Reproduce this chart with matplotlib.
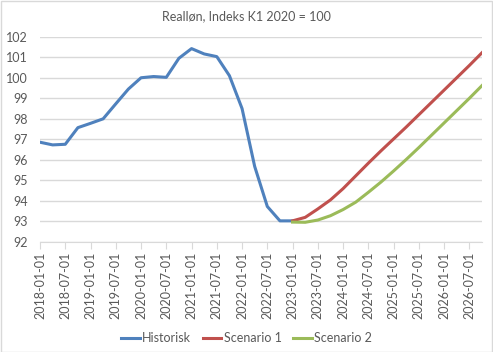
import matplotlib
matplotlib.use("Agg")
import matplotlib.pyplot as plt
from matplotlib.patches import Rectangle
import pandas as pd

# Quarterly dates, 2018Q1 - 2026Q4
quarters = pd.date_range("2018-01-01", "2026-10-01", freq="QS").strftime("%Y-%m-%d").tolist()

historisk = [96.86, 96.73, 96.76, 97.57,
             97.78, 98.00, 98.73, 99.45,
             100.00, 100.06, 100.02, 100.95,
             101.42, 101.16, 101.03, 100.10,
             98.50, 95.68, 93.73, 93.03,
             93.03]

scenario_1 = [93.03, 93.20, 93.61, 94.05, 94.60, 95.22, 95.84, 96.44,
              97.02, 97.60, 98.20, 98.80, 99.40, 100.00, 100.60, 101.22]

scenario_2 = [92.97, 92.96, 93.07, 93.28, 93.58, 93.94, 94.42, 94.92,
              95.46, 96.02, 96.60, 97.20, 97.80, 98.40, 99.00, 99.62]

y_ticks = list(range(92, 103))
grey = "#595959"

plt.rcParams['font.family'] = ['Lato', 'DejaVu Sans']

fig = plt.figure(figsize=(4.93, 3.52), dpi=100)
ax = fig.add_axes([40 / 493, 110 / 352, 442 / 493, 205.3 / 352])

x_hist = list(range(len(historisk)))
x_scen = list(range(len(historisk) - 1, len(quarters)))

ax.plot(x_hist, historisk, color="#4F81BD", lw=2.2, label="Historisk",
        solid_joinstyle="round")
ax.plot(x_scen, scenario_1, color="#C0504D", lw=2.2, label="Scenario 1",
        solid_joinstyle="round")
ax.plot(x_scen, scenario_2, color="#9BBB59", lw=2.2, label="Scenario 2",
        solid_joinstyle="round")

ax.set_xlim(0, len(quarters) - 1)
ax.set_ylim(92, 102)
ax.set_yticks(y_ticks)
ax.set_yticklabels([str(v) for v in y_ticks], fontsize=9, color=grey)
ax.set_xticks(range(0, len(quarters), 2))
ax.set_xticklabels(quarters[::2], rotation=90, fontsize=9, color=grey)

ax.grid(axis="y", color="#D9D9D9", lw=1)
ax.set_axisbelow(True)
for side in ["top", "right", "left"]:
    ax.spines[side].set_visible(False)
ax.spines["bottom"].set_color("#D9D9D9")
ax.tick_params(axis="y", length=0, pad=9)
ax.tick_params(axis="x", length=5, color="#D9D9D9", pad=2)

fig.text(0.5, 1 - 16 / 352, "Realløn, Indeks K1 2020 = 100", ha="center",
         va="center", fontsize=9, color=grey)

fig.legend(loc="center", bbox_to_anchor=(0.5, 14 / 352), ncol=3, frameon=False,
           fontsize=9, handlelength=1.5, handletextpad=0.2, columnspacing=0.9,
           labelcolor=grey)

fig.patches.append(Rectangle((0.5 / 493, 0.5 / 352), 491.5 / 493, 350.5 / 352,
                             transform=fig.transFigure, fill=False,
                             edgecolor="#D9D9D9", lw=1))

fig.savefig("out.png", dpi=100)
